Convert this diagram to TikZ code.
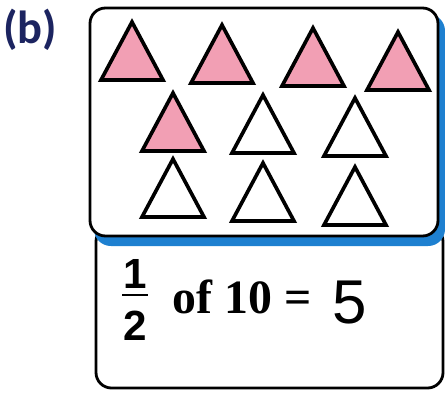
\documentclass[tikz,border=0pt]{standalone}
\usepackage{fontspec}
\setmainfont{Liberation Serif}
\newfontfamily\labelfont{Carlito}
\newfontfamily\answerfont{Liberation Sans}
\usetikzlibrary{positioning}
\definecolor{partNavy}{RGB}{28,36,96}
\definecolor{shadowBlue}{RGB}{30,128,208}
\definecolor{triPink}{RGB}{236,118,148}
\tikzset{
  card/.style={draw=black, line width=2pt, rounded corners=11pt, fill=white},
  shadow/.style={fill=shadowBlue, rounded corners=12pt},
  tri/.style={draw=black, line width=2.6pt, fill=white},
  pinktri/.style={tri, fill=triPink!70},
  sumtext/.style={inner sep=0pt, font=\bfseries\fontsize{34}{36}\selectfont},
  fractext/.style={inner sep=0pt, font=\answerfont\bfseries\fontsize{30}{32}\selectfont}
}
\begin{document}
\begin{tikzpicture}[x=0.025cm, y=-0.025cm]
\useasboundingbox (0,0) rectangle (445,396);
% part label
\node[inner sep=0pt, text=partNavy, font=\labelfont\bfseries\fontsize{33}{35}\selectfont]
  (part) at (30,30) {(b)};
% answer card, then the blue edge, then the picture card
\draw[card] (96,226) rectangle (443,388);
\fill[shadow] (94,14) rectangle (445,246);
\draw[card] (90,8) rectangle (438,236);
% triangles: apex x / apex y / style
\foreach \x/\y/\s in {132/22/pinktri,222/25/pinktri,313/28/pinktri,398/32/pinktri,
                      173/93/pinktri,263/95/tri,355/98/tri,
                      173/159/tri,263/163/tri,355/167/tri}
  \draw[\s] (\x,\y) -- (\x+31,\y+58) -- (\x-31,\y+58) -- cycle;
% half of ten
\node[fractext] (one) at (135,274) {1};
\node[fractext] (two) at (135,326) {2};
\draw[line width=1.4pt] (122,295) -- (148,295);
\node[sumtext] (of) at (242,297) {of 10 =};
\node[inner sep=0pt, font=\answerfont\fontsize{44}{46}\selectfont] (five) at (350,303) {5};
\end{tikzpicture}
\end{document}
